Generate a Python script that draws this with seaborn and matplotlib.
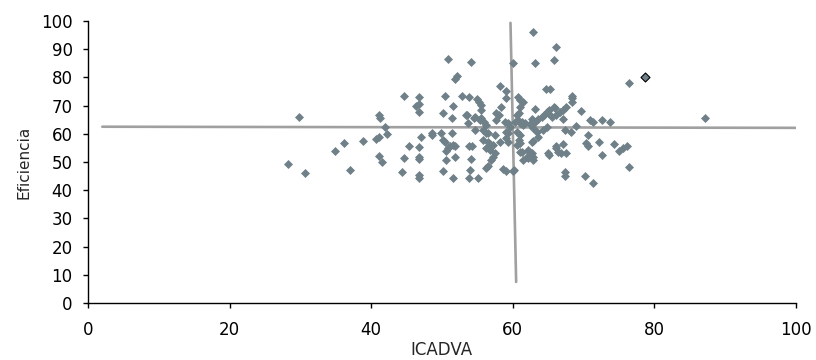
import matplotlib
matplotlib.use("Agg")
import matplotlib.pyplot as plt
import seaborn as sns
import pandas as pd

# ICADVA vs Eficiencia
icadva = [
    29.8, 28.3, 30.6, 34.9, 36.1, 37.0, 38.9, 40.7, 41.1, 41.1, 41.3, 41.9, 42.3, 41.1, 41.6,
    44.6, 44.4, 44.6, 45.4, 46.7, 46.4, 46.8, 46.7, 46.7, 46.7, 46.7, 46.7, 46.7, 47.1, 48.6, 48.6,
    50.1, 50.4, 50.8, 51.4, 51.6, 51.9, 52.1, 49.9, 50.1, 50.4, 50.8, 51.1, 51.6, 51.9, 50.6, 50.6,
    51.8, 51.4, 50.1, 51.6,
    52.8, 53.9, 54.1, 53.4, 53.7, 54.6, 54.9, 55.3, 55.6, 55.6, 54.7, 53.9, 54.3, 54.1, 54.0, 53.9, 55.1,
    55.6, 55.9, 56.3, 56.2, 55.8, 56.5, 56.8, 57.2, 56.2, 56.8, 57.5, 57.2, 56.9, 56.5, 56.3,
    58.2, 59.1, 59.1, 58.4, 57.6, 58.1, 57.6, 58.9, 59.4, 59.6, 59.0, 59.4, 58.2, 59.4, 58.6, 59.0,
    55.8, 56.5, 57.5, 59.1,
    60.1, 60.2, 60.7, 61.0, 61.4, 61.1, 60.9, 60.6, 60.8, 61.3, 61.7, 60.6, 61.1, 60.9, 60.6, 61.1,
    61.5, 62.2, 62.0, 62.7, 62.9,
    62.9, 63.1, 63.1, 62.7, 62.4, 63.6, 64.1, 62.9, 63.4, 62.9, 63.6, 65.2, 64.7, 65.3, 64.8, 65.2,
    64.8, 64.3, 65.9, 66.1, 65.8, 66.2, 66.1, 66.4, 62.9, 65.0, 66.2, 64.5, 65.5, 66.0,
    76.4, 87.2, 68.4, 68.4, 68.4, 67.6, 67.1, 66.7, 67.1, 69.6, 70.9, 71.4, 72.6, 73.7, 67.4,
    68.3, 68.9, 70.7, 70.4, 70.7, 72.2, 74.4, 75.1, 75.6, 76.1, 76.4, 72.6, 67.1, 66.9, 67.5,
    67.4, 67.4, 70.2, 71.4,
    53.5, 54.7, 55.4, 60.3, 61.0, 61.4, 63.1, 65.0, 61.0, 61.3, 62.4, 62.2, 62.7, 60.1,
]
eficiencia = [
    66.1, 49.3, 46.0, 54.0, 56.7, 47.0, 57.3, 58.0, 59.0, 66.7, 65.5, 62.3, 60.0, 52.1, 49.9,
    73.5, 46.6, 51.4, 55.8, 73.0, 69.9, 70.6, 67.7, 55.4, 51.8, 50.9, 45.4, 44.2, 59.0, 60.4, 59.6,
    67.3, 73.5, 86.5, 65.5, 69.9, 79.5, 80.4, 60.4, 57.8, 57.2, 55.1, 55.5, 56.0, 55.5, 53.9, 50.7,
    51.9, 60.4, 46.9, 44.2,
    73.5, 73.0, 85.6, 66.7, 63.7, 65.5, 72.2, 71.4, 70.2, 68.4, 61.3, 55.8, 55.5, 50.9, 47.2, 44.2, 44.2,
    65.5, 64.3, 63.1, 60.4, 57.8, 57.2, 56.4, 56.0, 54.8, 54.3, 53.1, 51.9, 50.7, 48.6, 48.0,
    76.9, 75.3, 72.6, 69.6, 67.3, 66.7, 64.9, 64.3, 63.7, 62.5, 60.7, 60.4, 57.2, 57.2, 47.4, 46.8,
    61.3, 60.2, 59.6, 58.4,
    85.0, 47.0, 73.2, 72.0, 71.4, 69.6, 67.3, 66.7, 64.9, 64.3, 63.7, 60.7, 59.6, 57.8, 56.0, 53.6,
    50.7, 54.3, 51.9, 53.1, 51.9,
    95.9, 85.0, 68.7, 65.2, 63.5, 65.1, 65.8, 61.9, 60.7, 57.3, 59.0, 52.5, 75.8, 75.8, 67.8, 68.4,
    62.5, 61.3, 86.2, 90.9, 69.4, 66.7, 55.5, 53.7, 50.7, 53.1, 54.8, 66.7, 66.1, 69.0,
    78.0, 65.5, 73.5, 72.6, 71.1, 69.4, 68.4, 67.6, 65.1, 68.2, 64.9, 64.3, 64.9, 64.3, 61.3,
    60.7, 62.8, 59.6, 56.8, 55.5, 57.2, 56.4, 54.0, 54.8, 55.5, 48.1, 52.5, 56.3, 53.3, 53.1,
    46.6, 45.0, 45.0, 42.7,
    66.7, 65.8, 64.9, 64.3, 63.7, 63.1, 64.3, 67.3, 56.6, 53.6, 53.1, 51.3, 57.2, 46.8,
]
# highlighted point (black outline)
sel_icadva = [78.7]
sel_eficiencia = [80.0]

# reference lines
hline_x = [2, 100]
hline_y = [62.5, 62.1]
vline_x = [59.7, 60.5]
vline_y = [99.3, 7.5]

df = pd.DataFrame({"ICADVA": icadva, "Eficiencia": eficiencia})
sel = pd.DataFrame({"ICADVA": sel_icadva, "Eficiencia": sel_eficiencia})

sns.set_style("ticks")
plt.rcParams['font.family'] = ['DejaVu Sans']

fig, ax = plt.subplots(figsize=(8.16, 3.6), dpi=100)
fig.subplots_adjust(left=0.108, right=0.975, bottom=0.158, top=0.942)

ax.plot(hline_x, hline_y, color="#a0a0a0", lw=1.9, zorder=1)
ax.plot(vline_x, vline_y, color="#a0a0a0", lw=1.9, zorder=1)
sns.scatterplot(data=df, x="ICADVA", y="Eficiencia", marker="D", s=21,
                color="#6f8088", linewidth=0, ax=ax, zorder=2)
sns.scatterplot(data=sel, x="ICADVA", y="Eficiencia", marker="D", s=21,
                color="#6f8088", edgecolor="black", linewidth=0.8, ax=ax, zorder=3)

ax.set_xlim(0, 100)
ax.set_ylim(0, 100)
ax.set_xticks(range(0, 101, 20))
ax.set_yticks(range(0, 101, 10))
ax.tick_params(labelsize=12, length=3.6, width=1, colors="black")
ax.tick_params(axis="y", pad=7.5)
ax.tick_params(axis="x", pad=9)
ax.set_xlabel("ICADVA", fontsize=12, labelpad=2)
ax.set_ylabel("Eficiencia", fontsize=11, labelpad=7)
for s in ["left", "bottom"]:
    ax.spines[s].set_color("black")
    ax.spines[s].set_linewidth(1)
sns.despine(ax=ax)

fig.savefig("out.png", dpi=100)
